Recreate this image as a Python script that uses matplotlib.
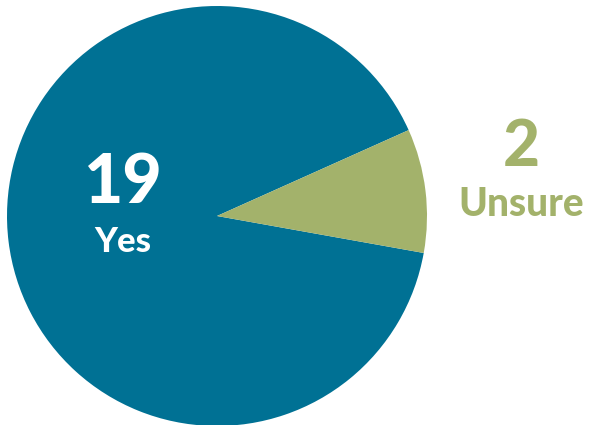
import matplotlib.pyplot as plt

# Survey answers
labels = ["Yes", "Unsure"]
counts = [19, 2]
colors = ["#007194", "#a3b26b"]

fig = plt.figure(figsize=(5.9, 4.25), dpi=100)
# pie centre ~ (217, 216) px, radius ~ 210 px
ax = fig.add_axes([7 / 590, (425 - 426) / 425, 420 / 590, 420 / 425])

# Unsure wedge centred at about 7 degrees
unsure_share = counts[1] / sum(counts) * 360
start = 7 - unsure_share / 2 + unsure_share
ax.pie(counts, colors=colors, startangle=start, counterclock=True,
       radius=1, wedgeprops=dict(linewidth=0))
ax.set_xlim(-1, 1)
ax.set_ylim(-1, 1)
ax.set_aspect("equal")
ax.axis("off")

font = "Lato"
w = "black"
fig.text(123 / 590, 1 - 184 / 425, str(counts[0]), color="white", fontsize=49,
         fontweight=w, family=font, ha="center", va="center")
fig.text(123 / 590, 1 - 242 / 425, labels[0], color="white", fontsize=25,
         fontweight=w, family=font, ha="center", va="center")
fig.text(521 / 590, 1 - 147 / 425, str(counts[1]), color=colors[1], fontsize=46,
         fontweight=w, family=font, ha="center", va="center")
fig.text(521 / 590, 1 - 204 / 425, labels[1], color=colors[1], fontsize=28,
         fontweight=w, family=font, ha="center", va="center")

fig.savefig("out.png", dpi=100)
